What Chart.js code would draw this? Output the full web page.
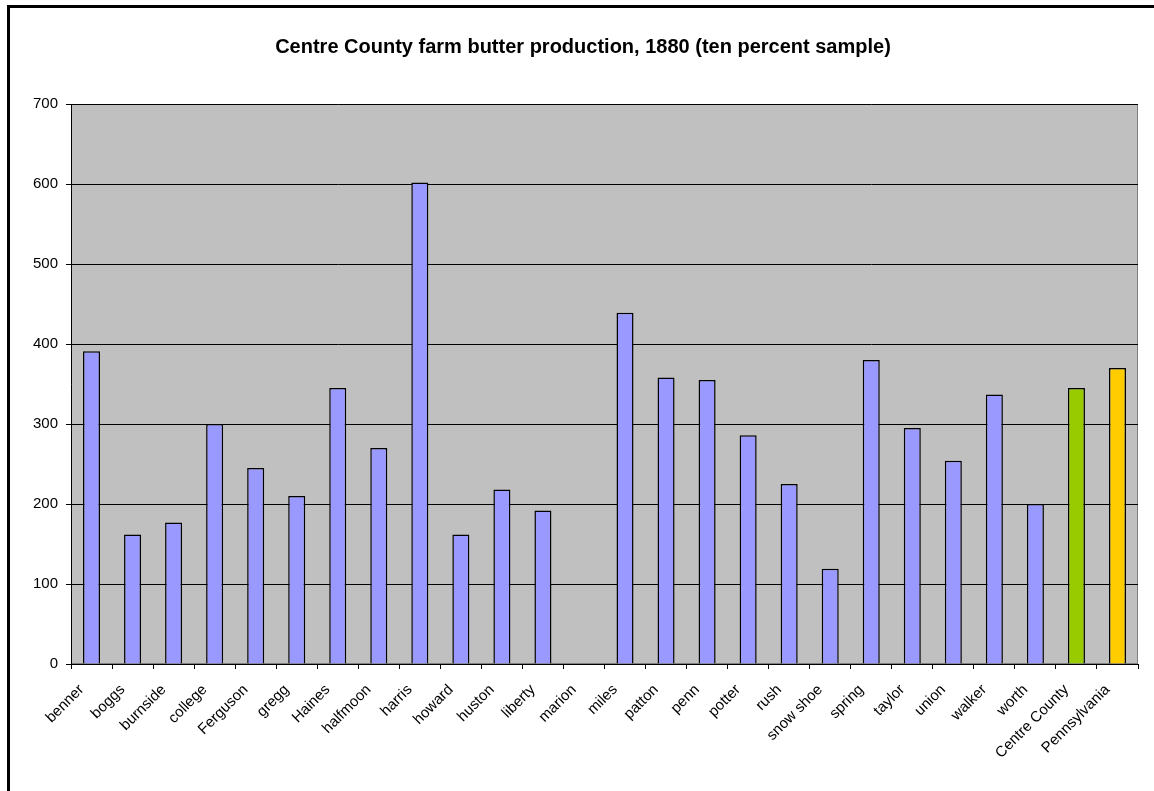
<!DOCTYPE html>
<html>
<head>
<meta charset="utf-8">
<script src="https://cdn.jsdelivr.net/npm/chart.js@4"></script>
<style>
  html, body { margin: 0; padding: 0; background: #fff; overflow: hidden; }
  #wrap { position: relative; width: 1154px; height: 791px; }
  #frame { position: absolute; left: 7px; top: 5px; width: 1200px; height: 900px;
           border-left: 3px solid #000; border-top: 3px solid #000; pointer-events: none; }
</style>
</head>
<body>
<div id="wrap">
  <canvas id="myChart" width="1154" height="791"></canvas>
  <div id="frame"></div>
</div>
<script>
// Townships of Centre County, plus county and state averages
const townships = ['benner', 'boggs', 'burnside', 'college', 'Ferguson', 'gregg', 'Haines',
  'halfmoon', 'harris', 'howard', 'huston', 'liberty', 'marion', 'miles', 'patton', 'penn',
  'potter', 'rush', 'snow shoe', 'spring', 'taylor', 'union', 'walker', 'worth',
  'Centre County', 'Pennsylvania'];

// Butter production per farm
const butter = [391, 162, 177, 300, 245, 210, 345, 270, 602, 162, 218, 192, 0, 439,
  358, 355, 286, 225, 119, 380, 295, 254, 337, 200, 345, 370];

const yTicks = [0, 100, 200, 300, 400, 500, 600, 700];

// bar colours: townships blue-ish, county green, state yellow
const barColors = townships.map(name => {
    if (name === 'Centre County') return '#99CC00';
    if (name === 'Pennsylvania') return '#FFCC00';
    return '#9999FF';
});

const font = 'Liberation Sans, Arial, sans-serif';

// grey plot background
const plotBackground = {
    id: 'plotBackground',
    beforeDraw(chart) {
        const { ctx, chartArea: a } = chart;
        ctx.save();
        ctx.fillStyle = '#C0C0C0';
        ctx.fillRect(a.left, a.top, a.right - a.left, a.bottom - a.top);
        ctx.strokeStyle = '#808080';
        ctx.lineWidth = 1;
        ctx.strokeRect(a.left + 0.5, a.top + 0.5, a.right - a.left - 1, a.bottom - a.top - 1);
        ctx.restore();
    }
};

const ctx = document.getElementById('myChart').getContext('2d');

new Chart(ctx, {
    type: 'bar',
    data: {
        labels: townships,
        datasets: [{
            label: 'butter',
            data: butter,
            backgroundColor: barColors,
            borderColor: '#000',
            borderWidth: 1.5,
            categoryPercentage: 1,
            barPercentage: 0.415
        }]
    },
    options: {
        responsive: false,
        animation: false,
        layout: { padding: { left: 28, right: 16, top: 0, bottom: 0 } },
        plugins: {
            legend: { display: false },
            tooltip: { enabled: false },
            title: {
                display: true,
                text: 'Centre County farm butter production, 1880 (ten percent sample)',
                color: '#000',
                font: { family: font, size: 20, weight: 'bold' },
                padding: { top: 35, bottom: 45 }
            }
        },
        scales: {
            x: {
                offset: true,
                grid: {
                    offset: true,
                    drawOnChartArea: false,
                    drawTicks: true,
                    tickLength: 5,
                    color: '#000'
                },
                border: { color: '#000', width: 1 },
                ticks: {
                    color: '#000',
                    font: { family: font, size: 15 },
                    minRotation: 45,
                    maxRotation: 45,
                    autoSkip: false,
                    padding: 12,
                    labelOffset: -10
                },
                afterFit(scale) { scale.height = 127; }
            },
            y: {
                min: 0,
                max: 700,
                afterBuildTicks(scale) { scale.ticks = yTicks.map(v => ({ value: v })); },
                grid: {
                    color: '#000',
                    tickLength: 5,
                    lineWidth: 1
                },
                border: { color: '#000', width: 1 },
                ticks: {
                    color: '#000',
                    font: { family: font, size: 15 },
                    padding: 8
                },
                afterFit(scale) { scale.width = 43; }
            }
        }
    },
    plugins: [plotBackground]
});
</script>
</body>
</html>
